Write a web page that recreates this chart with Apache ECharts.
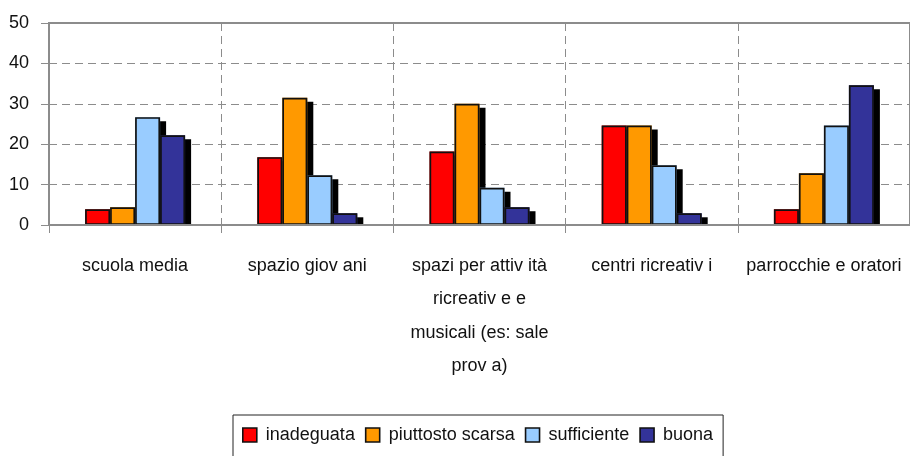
<!DOCTYPE html>
<html>
<head>
<meta charset="utf-8">
<script src="https://cdn.jsdelivr.net/npm/echarts@6/dist/echarts.min.js"></script>
<style>
html,body{margin:0;padding:0;background:#fff;}
#chart{width:910px;height:456px;}
</style>
</head>
<body>
<div id="chart"></div>
<script>
var categories = [
  "scuola media",
  "spazio giov ani",
  "spazi per attiv ità\nricreativ e e\nmusicali (es: sale\nprov a)",
  "centri ricreativ i",
  "parrocchie e oratori"
];
var seriesNames = ["inadeguata", "piuttosto scarsa", "sufficiente", "buona"];
var inadeguata = [3.9, 16.8, 18.2, 24.6, 3.9];
var piuttostoScarsa = [4.4, 31.5, 30.0, 24.6, 12.8];
var sufficiente = [26.7, 12.3, 9.2, 14.8, 24.6];
var buona = [22.2, 2.9, 4.4, 2.9, 34.6];
var yTicks = [0, 10, 20, 30, 40, 50];

var colors = ["#FF0000", "#FF9900", "#99CCFF", "#333399"];
var values = [inadeguata, piuttostoScarsa, sufficiente, buona];
var FONT = "'Liberation Sans', Arial, sans-serif";

var chart = echarts.init(document.getElementById('chart'), null, {renderer: 'canvas'});

// filled bars with drop shadow (no border so the shadow stays clean)
var fillSeries = seriesNames.map(function (name, i) {
  return {
    name: name,
    type: 'bar',
    xAxisIndex: 0,
    data: values[i],
    barWidth: 25,
    barGap: '0%',
    z: 2,
    itemStyle: {
      color: colors[i],
      borderWidth: 0,
      shadowColor: '#000',
      shadowBlur: 0,
      shadowOffsetX: 6,
      shadowOffsetY: 4
    },
    emphasis: {disabled: true}
  };
});
// outline-only bars on a twin (hidden) category axis, same layout
var outlineSeries = seriesNames.map(function (name, i) {
  return {
    name: name + ' (bordo)',
    type: 'bar',
    xAxisIndex: 1,
    data: values[i],
    barWidth: 25,
    barGap: '0%',
    z: 3,
    silent: true,
    itemStyle: {color: 'transparent', borderColor: '#111', borderWidth: 1.7},
    emphasis: {disabled: true}
  };
});

var axisGray = '#8c8c8c';

var option = {
  animation: false,
  backgroundColor: '#fff',
  grid: {
    left: 49, top: 23, right: -2, bottom: 231,
    show: true, borderColor: axisGray, borderWidth: 2, backgroundColor: 'transparent'
  },
  legend: {
    data: seriesNames,
    left: 233,
    top: 415,
    padding: [11, 10, 40, 9],
    borderColor: '#222',
    borderWidth: 1,
    itemWidth: 14,
    itemHeight: 14,
    itemGap: 10,
    icon: 'rect',
    itemStyle: {borderColor: '#111', borderWidth: 1.6, shadowColor: 'transparent', shadowBlur: 0, shadowOffsetX: 0, shadowOffsetY: 0},
    textStyle: {fontFamily: FONT, fontSize: 18, color: '#111', padding: [0, 0, 0, 4]}
  },
  xAxis: [{
    type: 'category',
    data: categories,
    z: 10,
    axisLine: {show: true, lineStyle: {color: axisGray, width: 2}},
    axisTick: {show: true, length: 8, lineStyle: {color: axisGray, width: 1}},
    splitLine: {show: true, lineStyle: {color: axisGray, type: [8, 5], width: 1}},
    axisLabel: {
      margin: 24, interval: 0,
      fontFamily: FONT, fontSize: 18, color: '#111', lineHeight: 33.5
    }
  }, {
    type: 'category',
    data: categories,
    show: false
  }],
  yAxis: {
    type: 'value',
    min: yTicks[0],
    max: yTicks[yTicks.length - 1],
    interval: yTicks[1] - yTicks[0],
    axisLine: {show: true, lineStyle: {color: axisGray, width: 2}},
    axisTick: {show: true, length: 8, lineStyle: {color: axisGray, width: 1}},
    splitLine: {show: true, lineStyle: {color: axisGray, type: [8, 5], width: 1}},
    axisLabel: {margin: 20, fontFamily: FONT, fontSize: 18, color: '#111'}
  },
  series: fillSeries.concat(outlineSeries)
};

chart.setOption(option);

// white strip to hide the part of bar shadows falling below the x axis
var y0 = chart.convertToPixel({yAxisIndex: 0}, 0);
chart.setOption({
  graphic: [{
    type: 'rect',
    z: 5,
    silent: true,
    shape: {x: 50, y: y0 + 1, width: 900, height: 8},
    style: {fill: '#fff'}
  }]
});
</script>
</body>
</html>
